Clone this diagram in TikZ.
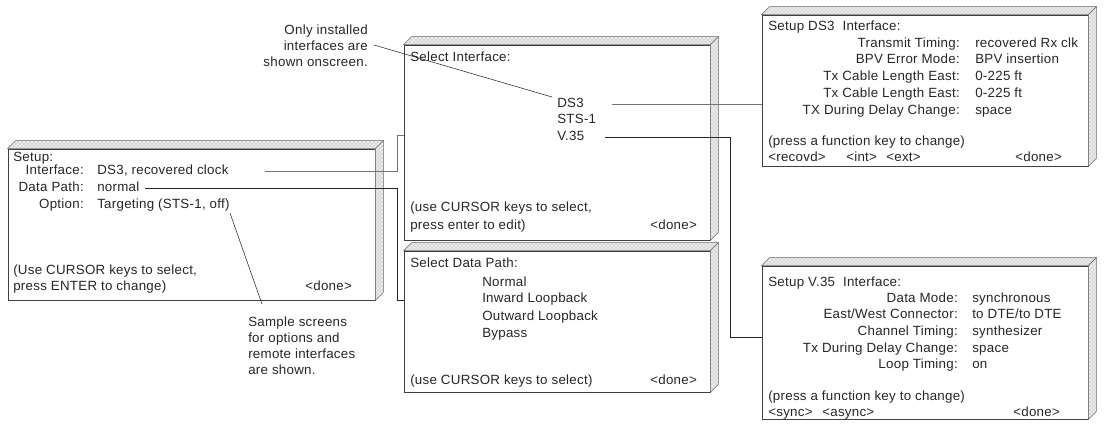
\documentclass[tikz,border=0pt]{standalone}
\usepackage{fontspec}
\setmainfont[LetterSpace=2]{Liberation Sans}
\usetikzlibrary{calc,fit,patterns}
\newcommand\scrfaces[1]{%
  \filldraw[face] (#1.north west) -- ++(8,-8) -- ($(#1.north east)+(8,-8)$) -- (#1.north east) -- cycle;
  \filldraw[face] (#1.north east) -- ++(8,-8) -- ($(#1.south east)+(8,-8)$) -- (#1.south east) -- cycle;
  \path[facedots] (#1.north west) -- ++(8,-8) -- ($(#1.north east)+(8,-8)$) -- (#1.north east) -- cycle;
  \path[facedots] (#1.north east) -- ++(8,-8) -- ($(#1.south east)+(8,-8)$) -- (#1.south east) -- cycle;}
\begin{document}
\begin{tikzpicture}[x=0.75pt,y=-0.75pt,
  scr/.style={draw=black!75, line width=0.5pt, fill=white, inner sep=0pt},
  face/.style={fill=black!8, draw=black!60, line width=0.4pt},
  facedots/.style={pattern=crosshatch dots, pattern color=black!40},
  txt/.style={inner sep=0pt, font=\fontsize{10}{12}\selectfont, text=black!85},
  tl/.style={txt, anchor=base west},
  tr/.style={txt, anchor=base east},
  note/.style={txt, font=\fontsize{10}{12}\selectfont},
  wire/.style={draw=black!85, line width=0.5pt},
  gwire/.style={draw=black!55, line width=0.7pt}]
\useasboundingbox[fill=white] (0,0) rectangle (1110,424);

% ---------- boxes ----------
\node[scr, fit={(8,149) (375,300)}] (setup) {};
\scrfaces{setup}
\node[scr, fit={(404,45) (710,240)}] (selif) {};
\scrfaces{selif}
\node[scr, fit={(404,251) (710,392)}] (seldp) {};
\scrfaces{seldp}
\node[scr, fit={(762,15) (1088,166)}] (ds3) {};
\scrfaces{ds3}
\node[scr, fit={(762,266) (1088,419)}] (v35) {};
\scrfaces{v35}

% ---------- Setup box ----------
\node[tl] (s0) at (13,162) {Setup:};
\node[tr] (s1l) at (84,175) {Interface:};
\node[tl] (s1v) at (97,175) {DS3, recovered clock};
\node[tr] (s2l) at (84,192) {Data Path:};
\node[tl] (s2v) at (97,192) {normal};
\node[tr] (s3l) at (84,209) {Option:};
\node[tl] (s3v) at (97,209) {Targeting (STS-1, off)};
\node[tl] (s4) at (13,274) {(Use CURSOR keys to select,};
\node[tl] (s5) at (13,290) {press ENTER to change)};
\node[tl] (s6) at (305,290) {<done>};

% ---------- Select Interface ----------
\node[tl] (i0) at (410,62) {Select Interface:};
\node[tl] (iDS) at (557,108) {DS3};
\node[tl] (iST) at (557,124) {STS-1};
\node[tl] (iV) at (557,141) {V.35};
\node[tl] (i4) at (410,212) {(use CURSOR keys to select,};
\node[tl] (i5) at (410,229) {press enter to edit)};
\node[tl] (i6) at (650,229) {<done>};

% ---------- Select Data Path ----------
\node[tl] (d0) at (410,267) {Select Data Path:};
\node[tl] (d1) at (482,286) {Normal};
\node[tl] (d2) at (482,302) {Inward Loopback};
\node[tl] (d3) at (482,320) {Outward Loopback};
\node[tl] (d4) at (482,337) {Bypass};
\node[tl] (d5) at (410,384) {(use CURSOR keys to select)};
\node[tl] (d6) at (650,384) {<done>};

% ---------- Setup DS3 ----------
\node[tl] (a0) at (768,31) {Setup DS3\ \ Interface:};
\node[tr] (a1l) at (960,48) {Transmit Timing:};
\node[tl] (a1v) at (975,48) {recovered Rx clk};
\node[tr] (a2l) at (960,64) {BPV Error Mode:};
\node[tl] (a2v) at (975,64) {BPV insertion};
\node[tr] (a3l) at (960,81) {Tx Cable Length East:};
\node[tl] (a3v) at (975,81) {0-225 ft};
\node[tr] (a4l) at (960,98) {Tx Cable Length East:};
\node[tl] (a4v) at (975,98) {0-225 ft};
\node[tr] (a5l) at (960,115) {TX During Delay Change:};
\node[tl] (a5v) at (975,115) {space};
\node[tl] (a6) at (768,146) {(press a function key to change)};
\node[tl] (a7) at (768,162) {<recovd>};
\node[tl] (a8) at (846,162) {<int>};
\node[tl] (a9) at (886,162) {<ext>};
\node[tl] (a10) at (1015,162) {<done>};

% ---------- Setup V.35 ----------
\node[tl] (b0) at (768,286) {Setup V.35\ \ Interface:};
\node[tr] (b1l) at (958,302) {Data Mode:};
\node[tl] (b1v) at (972,302) {synchronous};
\node[tr] (b2l) at (958,318) {East/West Connector:};
\node[tl] (b2v) at (972,318) {to DTE/to DTE};
\node[tr] (b3l) at (958,335) {Channel Timing:};
\node[tl] (b3v) at (972,335) {synthesizer};
\node[tr] (b4l) at (958,352) {Tx During Delay Change:};
\node[tl] (b4v) at (972,352) {space};
\node[tr] (b5l) at (958,368) {Loop Timing:};
\node[tl] (b5v) at (972,368) {on};
\node[tl] (b6) at (768,400) {(press a function key to change)};
\node[tl] (b7) at (768,416) {<sync>};
\node[tl] (b8) at (822,416) {<async>};
\node[tl] (b9) at (1013,416) {<done>};

% ---------- annotations ----------
\node[note, align=right, anchor=north east] (n1) at (368,25) {Only installed\\interfaces are\\shown onscreen.};
\node[note, align=left, anchor=north west] (n2) at (248,317) {Sample screens\\for options and\\remote interfaces\\are shown.};

% ---------- connectors ----------
\coordinate (cIf) at (265,171);
\coordinate (cDp) at (145,188);
\coordinate (cDs) at (612,104);
\coordinate (cV) at (605,137);
\coordinate (cN1a) at (374,45);
\coordinate (cN1b) at (552,97);
\coordinate (cN2a) at (230,213);
\coordinate (cN2b) at (262,304);
\draw[gwire] (cIf) -- (397,171) |- (selif.west |- 0,135);
\draw[wire] (cDp) -- (397,188) |- (seldp.west |- 0,300);
\draw[gwire] (cDs) -- (ds3.west |- cDs);
\draw[wire] (cV) -- (730,137) |- (v35.west |- 0,337);
\draw[wire, line width=0.4pt] (cN1a) -- (cN1b);
\draw[wire, line width=0.4pt] (cN2a) -- (cN2b);
\end{tikzpicture}
\end{document}
